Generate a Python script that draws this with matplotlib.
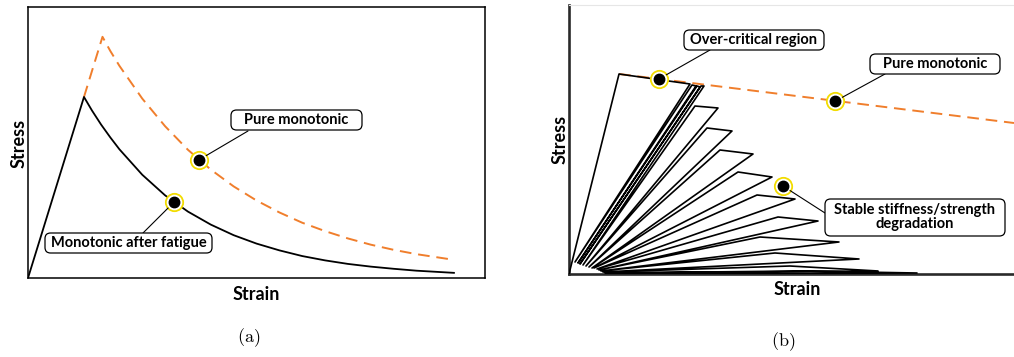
import matplotlib
matplotlib.use("Agg")
import matplotlib.pyplot as plt
from matplotlib.patches import FancyBboxPatch, ConnectionPatch

W, H = 1014, 357

# (a) softening branch, virgin specimen vs. specimen after fatigue
fat_strain = [0.0, 1.225, 1.4, 1.6, 1.8, 2.0, 2.5, 3.0, 3.5, 4.0, 4.5, 5.0, 5.5,
              6.0, 6.5, 7.0, 7.5, 8.0, 8.5, 9.32]
fat_stress = [0.0, 6.68, 6.18, 5.66, 5.19, 4.75, 3.81, 3.05, 2.45, 1.97, 1.58,
              1.27, 1.02, 0.81, 0.65, 0.52, 0.42, 0.34, 0.27, 0.19]
# pure monotonic, drawn from where it leaves the shared elastic branch
mono_strain_a = [1.225, 1.63, 1.8, 2.0, 2.5, 3.0, 3.5, 4.0, 4.5, 5.0, 5.5, 6.0,
                 6.5, 7.0, 7.5, 8.0, 8.5, 9.32]
mono_stress_a = [6.68, 8.9, 8.38, 7.83, 6.62, 5.60, 4.73, 4.00, 3.38, 2.86, 2.42,
                 2.04, 1.73, 1.46, 1.23, 1.04, 0.88, 0.67]
dots_a = {"fatigue": (3.195, 2.80), "mono": (3.742, 4.36)}

# (b) cyclic loading path and monotonic envelope
cyc_strain = [0.0, 1.124, 2.719, 0.135, 2.764, 2.854, 0.202, 2.876, 2.944, 0.247,
              2.966, 3.034, 0.315, 2.831, 3.348, 0.382, 3.101, 3.663, 0.449,
              3.393, 4.135, 0.517, 3.798, 4.562, 0.562, 4.225, 5.079, 0.629,
              4.697, 5.596, 0.674, 4.292, 6.067, 0.719, 4.629, 6.517, 0.764,
              4.966, 6.944, 0.809, 5.191, 7.820, 0.854]
cyc_stress = [0.0, 7.435, 7.063, 0.446, 7.026, 6.989, 0.409, 6.989, 6.952, 0.372,
              6.989, 6.989, 0.335, 6.245, 6.171, 0.297, 5.428, 5.316, 0.260,
              4.610, 4.461, 0.223, 3.792, 3.606, 0.223, 2.937, 2.788, 0.186,
              2.119, 1.970, 0.149, 1.375, 1.190, 0.112, 0.781, 0.558, 0.074,
              0.297, 0.112, 0.037, 0.112, 0.037, 0.0]
# envelope beyond the first peak (the elastic branch coincides with the loops)
mono_strain_b = [1.124, 10.0]
mono_stress_b = [7.435, 5.613]
dots_b = {"over": (2.022, 7.25), "mono": (5.978, 6.42), "stable": (4.809, 3.27)}

ORANGE = "#f07e2c"
YELLOW = "#f2dc00"

plt.rcParams["font.family"] = ["Lato", "DejaVu Sans"]
plt.rcParams["mathtext.fontset"] = "cm"

fig = plt.figure(figsize=(W / 100, H / 100), dpi=100)


def px_axes(l, t, r, b):
    return fig.add_axes([l / W, 1 - b / H, (r - l) / W, (b - t) / H])


def fxy(x, y):
    return (x / W, 1 - y / H)


def marker(ax, pt):
    ax.plot(*pt, "o", ms=12.5, mfc="white", mec=YELLOW, mew=1.3, zorder=5, clip_on=False)
    ax.plot(*pt, "o", ms=7.5, color="black", zorder=6, clip_on=False)


def callout(ax, pt, box, text, end):
    cx, cy, w, h = box
    l, t = cx - w / 2, cy - h / 2
    patch = FancyBboxPatch((l / W, 1 - (t + h) / H), w / W, h / H,
                           boxstyle="round,pad=0,rounding_size=0.0055",
                           mutation_aspect=W / H, transform=fig.transFigure,
                           fc="white", ec="black", lw=0.9, zorder=7)
    fig.add_artist(patch)
    fig.text(cx / W, 1 - cy / H, text, ha="center", va="center", fontsize=10.5,
             fontweight="bold", linespacing=1.0, zorder=8)
    con = ConnectionPatch(xyA=pt, coordsA=ax.transData, xyB=fxy(*end),
                          coordsB=fig.transFigure, color="black", lw=0.8,
                          shrinkA=6, shrinkB=0, zorder=4)
    fig.add_artist(con)


def labels(ax, xl, yl):
    ax.set_xticks([])
    ax.set_yticks([])
    ax.set_xlim(0, 10)
    ax.set_ylim(0, 10)
    ax.set_xlabel("Strain", fontsize=13, fontweight="bold")
    ax.set_ylabel("Stress", fontsize=13, fontweight="bold")
    ax.xaxis.set_label_coords(*xl)
    ax.yaxis.set_label_coords(*yl)


# ---- (a)
ax1 = px_axes(28, 7, 485, 278)
ax1.plot(mono_strain_a, mono_stress_a, color=ORANGE, lw=1.4, dashes=(6, 3.5), zorder=2)
ax1.plot(fat_strain, fat_stress, color="black", lw=1.3, zorder=3)
for s in ax1.spines.values():
    s.set_linewidth(1.1)
labels(ax1, (0.499, -0.030), (-0.002, 0.498))
marker(ax1, dots_a["mono"])
marker(ax1, dots_a["fatigue"])
callout(ax1, dots_a["mono"], (296.5, 120, 131, 20), "Pure monotonic", (248, 131))
callout(ax1, dots_a["fatigue"], (128.5, 243, 167, 20), "Monotonic after fatigue", (143, 233))

# ---- (b)
ax2 = px_axes(569, 5, 1014, 274)
ax2.plot(mono_strain_b, mono_stress_b, color=ORANGE, lw=1.4, dashes=(6, 3.5), zorder=2)
ax2.plot(cyc_strain, cyc_stress, color="black", lw=1.2, zorder=3)
ax2.spines["right"].set_visible(False)
ax2.spines["top"].set_color("#e6e6e6")
ax2.spines["top"].set_linewidth(0.8)
for side in ("left", "bottom"):
    ax2.spines[side].set_color("#2a2a2a")
    ax2.spines[side].set_linewidth(1.9)
labels(ax2, (0.512, -0.026), (-0.002, 0.502))
marker(ax2, dots_b["over"])
marker(ax2, dots_b["mono"])
marker(ax2, dots_b["stable"])
callout(ax2, dots_b["over"], (754, 40, 140, 20), "Over-critical region", (710, 50))
callout(ax2, dots_b["mono"], (935, 64, 130, 20), "Pure monotonic", (885, 74))
callout(ax2, dots_b["stable"], (915, 217.5, 180, 37),
        "Stable stiffness/strength\ndegradation", (825, 213))

fig.text(249 / W, 1 - 338 / H, r"$\mathrm{(a)}$", ha="center", va="center", fontsize=13)
fig.text(783 / W, 1 - 342 / H, r"$\mathrm{(b)}$", ha="center", va="center", fontsize=13)

fig.savefig("out.png", dpi=100)
